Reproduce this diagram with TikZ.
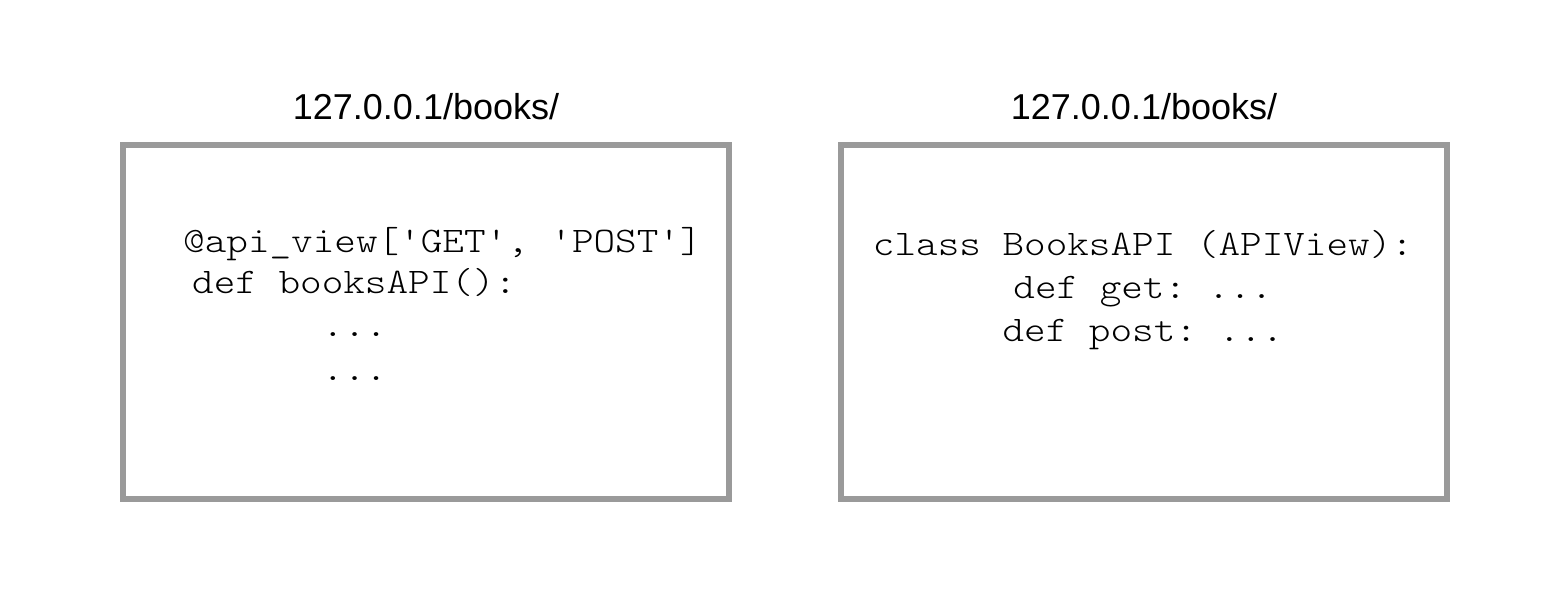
\documentclass[tikz,border=0pt]{standalone}
\usepackage{fontspec}
\setmainfont{Liberation Sans}
\setmonofont{lmmonolt10-regular.otf}[FakeStretch=1.143]
\definecolor{boxgray}{HTML}{9A9A9A}
\begin{document}
\begin{tikzpicture}[x=1pt,y=-1pt,
  codebox/.style={draw=boxgray, line width=6pt, fill=white, rectangle, minimum width=606pt, minimum height=354pt, inner sep=0pt},
  title/.style={font=\fontsize{36}{40}\selectfont, inner sep=0pt, anchor=base},
  codeline/.style={font=\fontsize{36}{40}\selectfont\ttfamily, inner sep=0pt},
  cl/.style={codeline, anchor=base west},
  cc/.style={codeline, anchor=base}]
\useasboundingbox (0,0) rectangle (1568,614);
\fill[white] (0,0) rectangle (1568,614);
% boxes
\node[codebox] (left) at (426,322) {};
\node[codebox] (right) at (1144,322) {};
% titles
\node[title] (ltitle) at (426,119) {127.0.0.1/books/};
\node[title] (rtitle) at (1144,119) {127.0.0.1/books/};
% left code
\node[cl] (l1) at (183,252) {@api\_view['GET', 'POST']};
\node[cl] (l2) at (192,293) {def booksAPI():};
\node[cl] (l3) at (322,336) {...};
\node[cl] (l4) at (322,380) {...};
% right code
\node[cc] (r1) at (1143,255) {class BooksAPI (APIView):};
\node[cc] (r2) at (1143,298) {def get: ...};
\node[cc] (r3) at (1143,341) {def post: ...};
\end{tikzpicture}
\end{document}
